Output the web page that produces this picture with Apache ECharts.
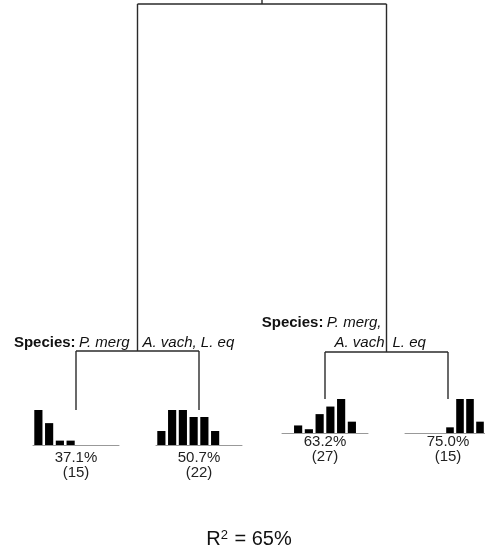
<!DOCTYPE html>
<html>
<head>
<meta charset="utf-8">
<script src="https://cdn.jsdelivr.net/npm/echarts@6/dist/echarts.min.js"></script>
<style>
html, body { margin: 0; padding: 0; background: #fff; }
#chart { width: 485px; height: 550px; }
</style>
</head>
<body>
<div id="chart"></div>
<script>
// histogram bins shown under each leaf
const bins = ["1", "2", "3", "4", "5", "6", "7", "8"];
// counts per bin for the four terminal nodes
const leaf1Counts = [8, 5, 1, 1, 0, 0, 0, 0];
const leaf2Counts = [2, 5, 5, 4, 4, 2, 0, 0];
const leaf3Counts = [0, 2, 1, 5, 7, 9, 3, 0];
const leaf4Counts = [0, 0, 0, 0, 1, 6, 6, 2];
const leafPct = ["37.1%", "50.7%", "63.2%", "75.0%"];
const leafN = [15, 22, 27, 15];
const rSquared = "65%";

const leafCounts = [leaf1Counts, leaf2Counts, leaf3Counts, leaf4Counts];

// layout (pixels)
const FONT = '"Liberation Sans", Arial, sans-serif';
const histLeft = [33, 156, 282, 405];
const histWidth = 86;
const histBottom = [445, 445, 433, 433];
const histHeight = [35, 35, 34, 34];
const pctY = [458, 458, 442, 442];
const rootY = 4;
const splitY = [351, 352];

const chart = echarts.init(document.getElementById("chart"));

const leafX = histLeft.map((l) => l + histWidth / 2);
const leafTop = histBottom.map((b, i) => b - histHeight[i]);
const nodeX = [(leafX[0] + leafX[1]) / 2, (leafX[2] + leafX[3]) / 2];
const rootX = (nodeX[0] + nodeX[1]) / 2;

// dendrogram segments
let segments = [];
segments.push([rootX, -10, rootX, rootY]);
segments.push([nodeX[0], rootY, nodeX[1], rootY]);
for (let k = 0; k < 2; k++) {
	segments.push([nodeX[k], rootY, nodeX[k], splitY[k]]);
	segments.push([leafX[2 * k], splitY[k], leafX[2 * k + 1], splitY[k]]);
	segments.push([leafX[2 * k], splitY[k], leafX[2 * k], leafTop[2 * k]]);
	segments.push([leafX[2 * k + 1], splitY[k], leafX[2 * k + 1], leafTop[2 * k + 1]]);
}

let grids = [{ left: 0, top: 0, right: 0, bottom: 0, show: false }];
let xAxes = [{ type: "value", min: 0, max: 485, show: false, gridIndex: 0 }];
let yAxes = [{ type: "value", min: 0, max: 550, inverse: true, show: false, gridIndex: 0 }];
let series = [
	{
		type: "custom",
		xAxisIndex: 0,
		yAxisIndex: 0,
		data: segments,
		silent: true,
		renderItem: (params, api) => {
			const a = api.coord([api.value(0), api.value(1)]);
			const b = api.coord([api.value(2), api.value(3)]);
			return {
				type: "line",
				shape: { x1: a[0], y1: a[1], x2: b[0], y2: b[1] },
				style: { stroke: "#2a2a2a", lineWidth: 1.4 },
			};
		},
	},
];

leafCounts.forEach((counts, i) => {
	grids.push({
		left: histLeft[i],
		top: leafTop[i],
		width: histWidth,
		height: histHeight[i],
		show: false,
	});
	xAxes.push({
		type: "category",
		gridIndex: i + 1,
		data: bins,
		axisLine: { show: true, lineStyle: { color: "#999", width: 1 } },
		axisTick: { show: false },
		axisLabel: { show: false },
	});
	yAxes.push({
		type: "value",
		gridIndex: i + 1,
		min: 0,
		max: Math.max(...counts),
		show: false,
	});
	series.push({
		type: "bar",
		xAxisIndex: i + 1,
		yAxisIndex: i + 1,
		data: counts,
		barCategoryGap: "24%",
		itemStyle: { color: "#000" },
		silent: true,
	});
});

let graphics = [];
leafPct.forEach((p, i) => {
	graphics.push({
		type: "text",
		x: leafX[i],
		y: pctY[i],
		style: {
			text: p,
			fontFamily: FONT,
			fontSize: 15,
			fill: "#222",
			align: "center",
			verticalAlign: "middle",
		},
	});
	graphics.push({
		type: "text",
		x: leafX[i],
		y: pctY[i] + 15,
		style: {
			text: "(" + leafN[i] + ")",
			fontFamily: FONT,
			fontSize: 15,
			fill: "#222",
			align: "center",
			verticalAlign: "middle",
		},
	});
});

const labelRich = {
	b: { fontFamily: FONT, fontSize: 15, fontWeight: "bold", fill: "#111" },
	i: { fontFamily: FONT, fontSize: 15, fontStyle: "italic", fill: "#111" },
};
function label(text, x, y, align) {
	return {
		type: "text",
		x,
		y,
		style: {
			text,
			rich: labelRich,
			align,
			verticalAlign: "middle",
		},
	};
}
graphics.push(label("{b|Species:} {i|P. merg}", nodeX[0] - 8, 343, "right"));
graphics.push(label("{i|A. vach, L. eq}", nodeX[0] + 5, 343, "left"));
graphics.push(label("{b|Species:} {i|P. merg,}", nodeX[1] - 5, 323, "right"));
graphics.push(label("{i|A. vach}", nodeX[1] - 2, 343, "right"));
graphics.push(label("{i|L. eq}", nodeX[1] + 6, 343, "left"));

graphics.push({
	type: "text",
	x: 249,
	y: 539,
	style: {
		text: "{a|R}{s|2}{a| = " + rSquared + "}",
		align: "center",
		verticalAlign: "middle",
		rich: {
			a: { fontFamily: FONT, fontSize: 20, fill: "#111" },
			s: { fontFamily: FONT, fontSize: 13, fill: "#111", verticalAlign: "top", padding: [0, 1, 8, 0] },
		},
	},
});

chart.setOption({
	animation: false,
	backgroundColor: "#fff",
	grid: grids,
	xAxis: xAxes,
	yAxis: yAxes,
	series,
	graphic: graphics,
});
</script>
</body>
</html>
